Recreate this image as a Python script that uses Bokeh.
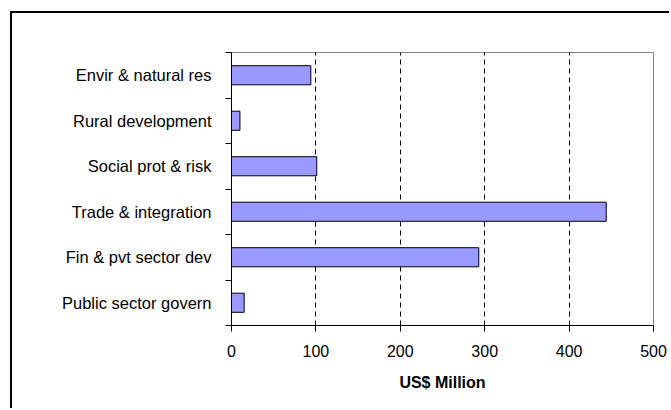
from bokeh.plotting import figure
from bokeh.embed import file_html
from bokeh.resources import INLINE
from bokeh.models import Range1d, FixedTicker, ColumnDataSource

# Data (bottom to top as drawn)
categories = ["Public sector govern", "Fin & pvt sector dev", "Trade & integration",
              "Social prot & risk", "Rural development", "Envir & natural res"]
values = [15, 293, 444, 101, 10, 94]
x_ticks = [0, 100, 200, 300, 400, 500]

positions = [i + 0.5 for i in range(len(categories))]
src = ColumnDataSource(dict(y=positions, v=values, cat=categories))

p = figure(width=659, height=397, output_backend="svg", toolbar_location=None,
           x_range=Range1d(0, 500), y_range=Range1d(0, len(categories)),
           min_border_left=219, min_border_right=18, min_border_top=39, min_border_bottom=85)
p.styles = {"margin-left": "10px", "margin-top": "11px",
            "border-left": "2px solid black", "border-top": "2px solid black"}

p.hbar(y="y", right="v", left=0, height=0.42, source=src,
       fill_color="#9999FF", line_color="black", line_width=1)

p.outline_line_color = "#808080"
p.outline_line_width = 1
p.background_fill_color = "white"
p.border_fill_color = "white"

p.ygrid.visible = False
p.xgrid.ticker = FixedTicker(ticks=[100, 200, 300, 400])
p.xgrid.grid_line_color = "black"
p.xgrid.grid_line_dash = "5 4"
p.xgrid.grid_line_width = 1

# x axis
p.xaxis.ticker = FixedTicker(ticks=x_ticks)
p.xaxis.axis_label = "US$ Million"
p.xaxis.axis_label_text_font = "Liberation Sans"
p.xaxis.axis_label_text_font_style = "bold"
p.xaxis.axis_label_text_font_size = "16px"
p.xaxis.axis_label_text_color = "black"
p.xaxis.axis_label_standoff = 14
p.xaxis.major_label_text_font = "Liberation Sans"
p.xaxis.major_label_text_font_size = "16px"
p.xaxis.major_label_text_color = "black"
p.xaxis.major_label_standoff = 13
p.xaxis.major_tick_out = 6
p.xaxis.major_tick_in = 0
p.xaxis.minor_tick_out = 0
p.xaxis.minor_tick_in = 0
p.xaxis.axis_line_color = "black"
p.xaxis.major_tick_line_color = "black"

# y axis: labels at centers, ticks at boundaries
p.yaxis.ticker = FixedTicker(ticks=positions, minor_ticks=list(range(len(categories) + 1)))
p.yaxis.major_label_overrides = {pos: c for pos, c in zip(positions, categories)}
p.yaxis.major_label_text_font = "Liberation Sans"
p.yaxis.major_label_text_font_size = "16.5px"
p.yaxis.major_label_text_color = "black"
p.yaxis.major_tick_out = 0
p.yaxis.major_tick_in = 0
p.yaxis.minor_tick_out = 6
p.yaxis.minor_tick_in = 0
p.yaxis.minor_tick_line_color = "black"
p.yaxis.major_label_standoff = 14
p.yaxis.axis_line_color = "black"

open("out.html", "w").write(file_html(p, INLINE))
